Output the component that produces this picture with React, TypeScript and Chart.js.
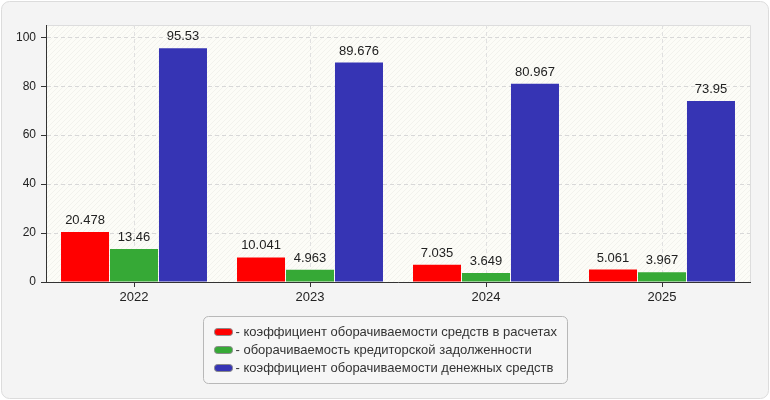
import React, { useEffect, useRef } from "react";
import { Chart, registerables } from "chart.js";

Chart.register(...registerables);

const categories = ["2022", "2023", "2024", "2025"];
const seriesNames = [
  "- коэффициент оборачиваемости средств в расчетах",
  "- оборачиваемость кредиторской задолженности",
  "- коэффициент оборачиваемости денежных средств",
];
const receivablesTurnover = [20.478, 10.041, 7.035, 5.061];
const payablesTurnover = [13.46, 4.963, 3.649, 3.967];
const cashTurnover = [95.53, 89.676, 80.967, 73.95];
const seriesColors = ["#ff0000", "#36a936", "#3634b4"];
const yTicks = [0, 20, 40, 60, 80, 100];

const FONT = 'Arial, "Liberation Sans", sans-serif';

function roundRect(ctx: CanvasRenderingContext2D, x: number, y: number, w: number, h: number, r: number) {
  ctx.beginPath();
  ctx.moveTo(x + r, y);
  ctx.lineTo(x + w - r, y);
  ctx.arcTo(x + w, y, x + w, y + r, r);
  ctx.lineTo(x + w, y + h - r);
  ctx.arcTo(x + w, y + h, x + w - r, y + h, r);
  ctx.lineTo(x + r, y + h);
  ctx.arcTo(x, y + h, x, y + h - r, r);
  ctx.lineTo(x, y + r);
  ctx.arcTo(x, y, x + r, y, r);
  ctx.closePath();
}

const backgroundPlugin = {
  id: "bgPlugin",
  beforeDraw(chart: any) {
    const ctx: CanvasRenderingContext2D = chart.ctx;
    const { width, height, chartArea } = chart;
    ctx.save();
    ctx.clearRect(0, 0, width, height);
    roundRect(ctx, 1.5, 1.5, width - 3, height - 3, 8);
    ctx.fillStyle = "#f4f4f4";
    ctx.fill();
    ctx.strokeStyle = "#dcdcdc";
    ctx.lineWidth = 1;
    ctx.stroke();
    const { left, top, right, bottom } = chartArea;
    ctx.fillStyle = "#fcfcf7";
    ctx.fillRect(left, top, right - left, bottom - top);
    const p = document.createElement("canvas");
    p.width = 5;
    p.height = 5;
    const pc = p.getContext("2d")!;
    pc.strokeStyle = "rgba(0,0,0,0.04)";
    pc.lineWidth = 1;
    pc.beginPath();
    pc.moveTo(0, 5);
    pc.lineTo(5, 0);
    pc.moveTo(-1, 1);
    pc.lineTo(1, -1);
    pc.moveTo(4, 6);
    pc.lineTo(6, 4);
    pc.stroke();
    const pattern = ctx.createPattern(p, "repeat");
    if (pattern) {
      ctx.fillStyle = pattern;
      ctx.fillRect(left, top, right - left, bottom - top);
    }
    ctx.strokeStyle = "#dddddd";
    ctx.beginPath();
    ctx.moveTo(left, top + 0.5);
    ctx.lineTo(right + 0.5, top + 0.5);
    ctx.lineTo(right + 0.5, bottom);
    ctx.stroke();
    ctx.restore();
  },
};

const labelsPlugin = {
  id: "valueLabels",
  afterDatasetsDraw(chart: any) {
    const ctx: CanvasRenderingContext2D = chart.ctx;
    ctx.save();
    ctx.font = `13px ${FONT}`;
    ctx.fillStyle = "#222222";
    ctx.textAlign = "center";
    ctx.textBaseline = "alphabetic";
    chart.data.datasets.forEach((ds: any, di: number) => {
      const meta = chart.getDatasetMeta(di);
      meta.data.forEach((bar: any, i: number) => {
        const v = ds.data[i];
        ctx.fillText(String(v), bar.x, bar.y - 8);
      });
    });
    ctx.restore();
  },
};

const legendPlugin = {
  id: "boxLegend",
  afterDraw(chart: any) {
    const ctx: CanvasRenderingContext2D = chart.ctx;
    ctx.save();
    ctx.font = `13px ${FONT}`;
    const textW = Math.max(...seriesNames.map((n) => ctx.measureText(n).width));
    const padX = 11;
    const swatchW = 18;
    const gap = 3;
    const boxW = Math.round(padX + swatchW + gap + textW + padX);
    const boxH = 67;
    const boxX = Math.round(chart.width / 2 - boxW / 2) + 0.5;
    const boxY = 316.5;
    roundRect(ctx, boxX, boxY, boxW, boxH, 5);
    ctx.fillStyle = "#f6f6f6";
    ctx.fill();
    ctx.strokeStyle = "#b8b8b8";
    ctx.lineWidth = 1;
    ctx.stroke();
    seriesNames.forEach((name, i) => {
      const cy = 332 + i * 18;
      const sx = boxX + padX;
      roundRect(ctx, sx, cy - 3.5, swatchW, 7, 3);
      ctx.fillStyle = seriesColors[i];
      ctx.fill();
      ctx.strokeStyle = "#8a8a8a";
      ctx.stroke();
      ctx.fillStyle = "#333333";
      ctx.textAlign = "left";
      ctx.textBaseline = "middle";
      ctx.fillText(name, sx + swatchW + gap, cy + 0.5);
    });
    ctx.restore();
  },
};

export default function App() {
  const ref = useRef<HTMLCanvasElement | null>(null);
  useEffect(() => {
    document.body.style.margin = "0";
    document.body.style.background = "#ffffff";
    if (!ref.current) return;
    const chart = new Chart(ref.current, {
      type: "bar",
      data: {
        labels: categories,
        datasets: [
          { label: seriesNames[0], data: receivablesTurnover, backgroundColor: seriesColors[0] },
          { label: seriesNames[1], data: payablesTurnover, backgroundColor: seriesColors[1] },
          { label: seriesNames[2], data: cashTurnover, backgroundColor: seriesColors[2] },
        ],
      },
      options: {
        responsive: false,
        animation: false,
        devicePixelRatio: 1,
        layout: { padding: { top: 25, right: 20, left: 0, bottom: 0 } },
        datasets: {
          bar: { categoryPercentage: 0.835, barPercentage: 0.98 },
        },
        plugins: {
          legend: { display: false },
          tooltip: { enabled: false },
          title: { display: false },
        },
        scales: {
          x: {
            offset: true,
            afterFit(scale: any) {
              scale.height = 118;
            },
            grid: {
              offset: false,
              color: "#e0e0e0",
              tickColor: "#333333",
              tickLength: 5,
              tickBorderDash: [1, 0],
              drawOnChartArea: true,
            } as any,
            border: { display: true, color: "#333333", width: 1, dash: [4, 3] } as any,
            ticks: {
              color: "#222222",
              font: { family: FONT, size: 13 },
              padding: 3,
            },
          },
          y: {
            min: 0,
            max: 105,
            afterFit(scale: any) {
              scale.width = 46;
            },
            afterBuildTicks(scale: any) {
              scale.ticks = yTicks.map((v) => ({ value: v }));
            },
            grid: {
              color: "#d8d8d8",
              tickColor: "#333333",
              tickLength: 5,
              tickBorderDash: [1, 0],
            } as any,
            border: { display: true, color: "#333333", width: 1, dash: [4, 3] } as any,
            ticks: {
              color: "#222222",
              font: { family: FONT, size: 12 },
              padding: 5,
            },
          },
        },
      },
      plugins: [backgroundPlugin, labelsPlugin, legendPlugin],
    });
    return () => chart.destroy();
  }, []);
  return <canvas ref={ref} width={770} height={400} style={{ display: "block" }} />;
}
